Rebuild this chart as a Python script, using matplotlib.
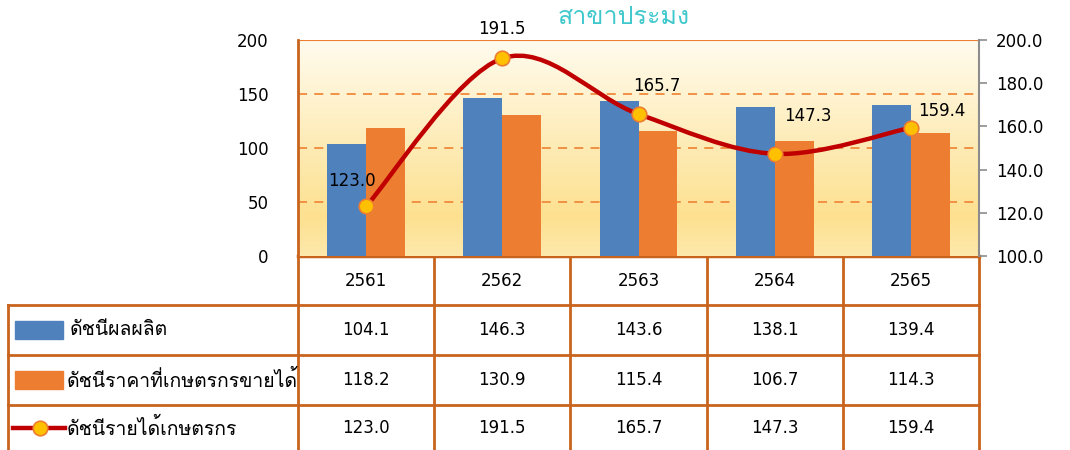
import numpy as np
import matplotlib
matplotlib.use("Agg")
import matplotlib.pyplot as plt
from matplotlib import font_manager
from matplotlib.ft2font import FT2Font
from matplotlib.path import Path
from matplotlib.patches import PathPatch, Rectangle
from matplotlib.lines import Line2D
from matplotlib.colors import LinearSegmentedColormap

# data
years = ["2561", "2562", "2563", "2564", "2565"]
production = [104.1, 146.3, 143.6, 138.1, 139.4]
price = [118.2, 130.9, 115.4, 106.7, 114.3]
income = [123.0, 191.5, 165.7, 147.3, 159.4]
series_names = ["ดัชนีผลผลิต", "ดัชนีราคาที่เกษตรกรขายได้", "ดัชนีรายได้เกษตรกร"]
title = "สาขาประมง"

# find a font that has thai glyphs
thai_font = None
for fe in font_manager.fontManager.ttflist:
    try:
        if 0x0E14 in FT2Font(fe.fname).get_charmap():
            thai_font = fe.name
            break
    except Exception:
        pass
# digits in DejaVu (close to Tahoma), thai glyphs from the fallback
fams = ["DejaVu Sans"] if thai_font is None else ["DejaVu Sans", thai_font]
plt.rcParams['font.family'] = fams
thai_fams = fams if thai_font is None else [thai_font, "DejaVu Sans"]

BLUE = "#4F81BD"
ORANGE = "#ED7D31"
RED = "#C00000"
GOLD = "#FFC000"
GRID = "#F08A3C"
TBL = "#C8641E"

W, H = 1070, 450
fig = plt.figure(figsize=(W / 100, H / 100), dpi=100)

def fx(px):
    return px / W

def fy(py):
    return 1 - py / H

L, R, T, B = 298, 979, 40, 256
ax = fig.add_axes([fx(L), fy(B), fx(R) - fx(L), fy(T) - fy(B)])
ax2 = ax.twinx()

n = len(years)
x = np.arange(n)
ax.set_xlim(-0.5, n - 0.5)

# gradient background, light on top
cmap = LinearSegmentedColormap.from_list("bg", [(0, "#FFFBEE"), (0.82, "#FDE190"), (1, "#FEE9AC")])
grad = np.linspace(0, 1, 256).reshape(-1, 1)
ax.imshow(grad, cmap=cmap, aspect="auto", extent=(-0.5, n - 0.5, 0, 200), origin="upper", zorder=0)
ax.set_ylim(0, 200)
ax2.set_ylim(100, 200)

for gy in [50, 100, 150]:
    ax.axhline(gy, color=GRID, lw=1.3, ls=(0, (5, 4)), zorder=1)
ax.axhline(200, color=ORANGE, lw=1.5, zorder=1)

bw = 0.285
ax.bar(x - bw / 2, production, bw, color=BLUE, zorder=2)
ax.bar(x + bw / 2, price, bw, color=ORANGE, zorder=2)

# smooth line like excel (bezier through the points)
pts = list(zip(x.astype(float), income))
verts = [pts[0]]
codes = [Path.MOVETO]
for i in range(n - 1):
    p0 = np.array(pts[i - 1] if i > 0 else pts[i])
    p1 = np.array(pts[i])
    p2 = np.array(pts[i + 1])
    p3 = np.array(pts[i + 2] if i + 2 < n else pts[i + 1])
    c1 = p1 + (p2 - p0) / 6
    c2 = p2 - (p3 - p1) / 6
    verts += [tuple(c1), tuple(c2), tuple(p2)]
    codes += [Path.CURVE4] * 3
ax2.add_patch(PathPatch(Path(verts, codes), fill=False, ec=RED, lw=3.2, zorder=3, capstyle="round"))
ax2.plot(x, income, ls="none", marker="o", ms=10.5, mfc=GOLD, mec=ORANGE, mew=1.2, zorder=4)

offs = [(-10, 18), (0, 21), (13, 20), (24, 27), (22, 12)]
for xi, v, o in zip(x, income, offs):
    ax2.annotate(f"{v:.1f}", (xi, v), xytext=o, textcoords="offset points",
                 ha="center", va="center", fontsize=12, zorder=5)

ax.set_zorder(1)
ax2.set_zorder(2)
ax2.patch.set_visible(False)

ax.set_yticks([0, 50, 100, 150, 200])
ax.tick_params(axis="y", length=0, pad=21, labelsize=12)
ax.set_xticks([])
ax2.set_yticks([100, 120, 140, 160, 180, 200])
ax2.set_yticklabels([f"{v:.1f}" for v in [100, 120, 140, 160, 180, 200]])
ax2.tick_params(axis="y", length=6, width=1.2, color="#8C8C8C", pad=6, labelsize=12)

for a in (ax, ax2):
    for s in a.spines.values():
        s.set_visible(False)
ax.spines["left"].set_visible(True)
ax.spines["left"].set_color(TBL)
ax.spines["left"].set_linewidth(2)
ax2.spines["right"].set_visible(True)
ax2.spines["right"].set_color("#8C8C8C")
ax2.spines["right"].set_linewidth(1.5)

# title
fig.text(fx(624), fy(17), title, color="#40C8CC", fontsize=18, ha="center", va="center", family=thai_fams)

# data table under the chart
tax = fig.add_axes([0, 0, 1, 1])
tax.set_xlim(0, W)
tax.set_ylim(H, 0)
tax.axis("off")

colw = (R - L) / n
col_edges = [L + i * colw for i in range(n + 1)]
row_edges = [B, 305, 355, 405, H + 5]
lw = 2

for i, xe in enumerate(col_edges):
    tax.plot([xe, xe], [B, H], color=TBL, lw=lw, solid_capstyle="butt")
tax.plot([8, 8], [row_edges[1], H], color=TBL, lw=lw)
tax.plot([L, R], [B, B], color=TBL, lw=lw + 0.5)
for ye in row_edges[1:4]:
    tax.plot([8, R], [ye, ye], color=TBL, lw=lw)

rc = [(row_edges[1] + row_edges[2]) / 2, (row_edges[2] + row_edges[3]) / 2, 428]
for i, yr in enumerate(years):
    cx = L + (i + 0.5) * colw
    tax.text(cx, (row_edges[0] + row_edges[1]) / 2, yr, ha="center", va="center", fontsize=12)
    for r, vals in enumerate([production, price, income]):
        tax.text(cx, rc[r], f"{vals[i]:.1f}", ha="center", va="center", fontsize=12)

# legend keys
tax.add_patch(Rectangle((15, rc[0] - 9), 48, 18, color=BLUE))
tax.add_patch(Rectangle((15, rc[1] - 9), 48, 18, color=ORANGE))
tax.add_line(Line2D([13, 65], [rc[2], rc[2]], color=RED, lw=3.2))
tax.plot([40], [rc[2]], marker="o", ms=10.5, mfc=GOLD, mec=ORANGE, mew=1.2)
for name, cy, tx in zip(series_names, rc, [70, 67, 67]):
    tax.text(tx, cy, name, ha="left", va="center", fontsize=14, family=thai_fams)

fig.savefig("out.png", dpi=100)
